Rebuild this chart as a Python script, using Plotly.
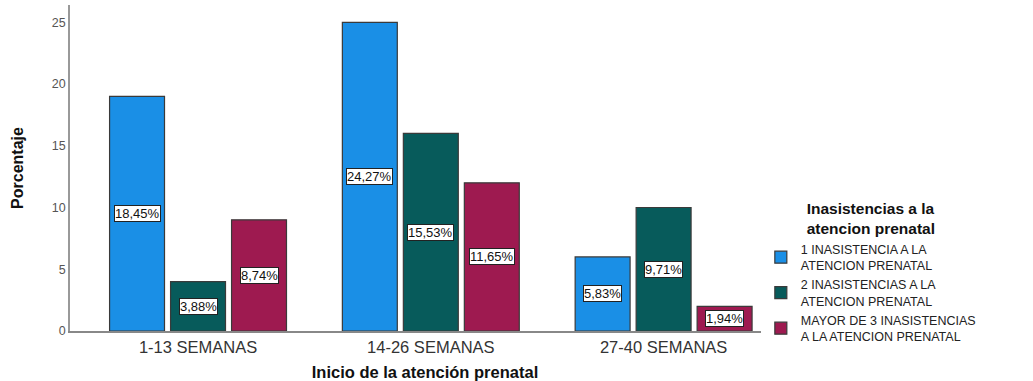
import plotly.graph_objects as go

# Data
categories = ["1-13 SEMANAS", "14-26 SEMANAS", "27-40 SEMANAS"]
series_names = [
    "1 INASISTENCIA A LA<br>ATENCION PRENATAL",
    "2 INASISTENCIAS A LA<br>ATENCION PRENATAL",
    "MAYOR DE 3 INASISTENCIAS<br>A LA ATENCION PRENATAL",
]
counts_1 = [19, 25, 6]
counts_2 = [4, 16, 10]
counts_3 = [9, 12, 2]
y_ticks = [0, 5, 10, 15, 20, 25]

colors = ["#1A8FE6", "#075B5B", "#9E1A50"]
series = [counts_1, counts_2, counts_3]
total = sum(sum(s) for s in series)

FONT = "Liberation Sans, Arial, sans-serif"

slot = 0.262
bar_w = 0.236
xpos = list(range(len(categories)))

fig = go.Figure()
annotations = []
for k, (name, vals, col) in enumerate(zip(series_names, series, colors)):
    off = (k - 1.5) * slot + (slot - bar_w) / 2
    fig.add_trace(go.Bar(
        x=xpos, y=vals, name=name,
        width=bar_w, offset=off,
        marker=dict(color=col, line=dict(color="#3a3a3a", width=1.2)),
        hoverinfo="skip",
    ))
    for i, v in enumerate(vals):
        pct = v / total * 100
        annotations.append(dict(
            x=i + off + bar_w / 2, y=v / 2, xref="x", yref="y",
            text=f"{pct:.2f}%".replace(".", ","),
            showarrow=False,
            font=dict(family=FONT, size=13, color="#111"),
            bgcolor="white", bordercolor="#222", borderwidth=1, borderpad=0,
        ))

fig.update_layout(
    width=1033, height=381,
    margin=dict(l=70, r=253, t=5, b=50),
    paper_bgcolor="white", plot_bgcolor="white",
    font=dict(family=FONT, color="#222"),
    showlegend=True,
    barmode="overlay",
    annotations=annotations,
    legend=dict(
        x=0.973, xanchor="left", y=0.42, yanchor="top",
        title=dict(text="<b>Inasistencias a la<br>atencion prenatal</b>",
                   side="top center",
                   font=dict(size=15.5, color="#111")),
        font=dict(size=12.5, color="#222"),
        tracegroupgap=0, itemwidth=30,
    ),
    xaxis=dict(
        range=[-0.55, 2.5],
        tickmode="array", tickvals=xpos, ticktext=categories,
        tickfont=dict(size=16.5, color="#333"),
        showline=True, linecolor="#888", linewidth=1.5,
        showgrid=False, zeroline=False, ticks="",
        title=dict(text="<b>Inicio de la atención prenatal</b>",
                   font=dict(size=16.5, color="#111"), standoff=14),
        automargin=False,
        fixedrange=True,
    ),
    yaxis=dict(
        range=[0, 26.4],
        tickmode="array", tickvals=y_ticks,
        tickfont=dict(size=12.5, color="#555"),
        showline=True, linecolor="#999", linewidth=1.5,
        showgrid=False, zeroline=False, ticks="",
        title=dict(text="<b>Porcentaje</b>",
                   font=dict(family="Liberation Sans Narrow, Arial Narrow, sans-serif", size=16, color="#111"),
                   standoff=24),
        automargin=False,
        fixedrange=True,
    ),
)

fig.write_html("out.html")
